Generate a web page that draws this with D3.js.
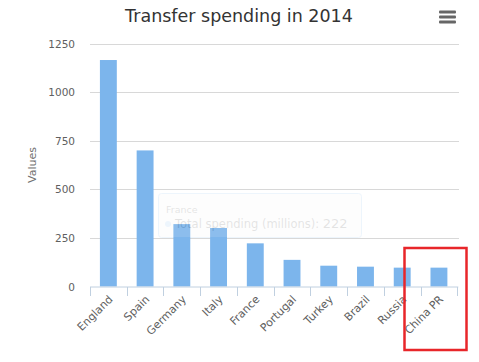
<!DOCTYPE html>
<html><head><meta charset="utf-8">
<script src="https://cdn.jsdelivr.net/npm/d3@7"></script>
<style>body{margin:0;background:#fff;}svg{display:block;font-family:"DejaVu Sans",Verdana,sans-serif;}</style>
</head><body>
<svg id="c" width="479" height="362"></svg>
<script>
const categories = ["England","Spain","Germany","Italy","France","Portugal","Turkey","Brazil","Russia","China PR"];
const values = [1165, 700, 321, 301, 222, 137, 107, 102, 97, 97];
const yTicks = [0, 250, 500, 750, 1000, 1250];
const titleText = "Transfer spending in 2014";
const yTitle = "Values";
const tooltipName = "France";
const tooltipSeries = "Total spending (millions)";
const tooltipValue = 222;

(function(){
const svg = d3.select("#c");
const pL = 90, pR = 457.3, pT = 43.5, pB = 286.5;
const x = d3.scaleBand().domain(categories).range([pL, pR]).padding(0);
const y = d3.scaleLinear().domain([0, 1250]).range([pB, pT]);

svg.append("text").attr("x", 239).attr("y", 22).attr("text-anchor", "middle")
  .attr("font-size", 17.5).attr("fill", "#333").text(titleText);

[12, 17, 22].forEach(yy => svg.append("rect").attr("x", 439).attr("y", yy - 1.5).attr("width", 17).attr("height", 3).attr("rx", 1).attr("fill", "#666"));

svg.append("g").selectAll("line").data(yTicks.filter(d => d > 0)).join("line")
  .attr("x1", pL).attr("x2", 459).attr("y1", d => Math.round(y(d)) + 0.5).attr("y2", d => Math.round(y(d)) + 0.5)
  .attr("stroke", "#d8d8d8").attr("stroke-width", 1);

svg.append("g").selectAll("text").data(yTicks).join("text")
  .attr("x", 75).attr("y", d => y(d) + 4).attr("text-anchor", "end")
  .attr("font-size", 10.5).attr("fill", "#606060").text(d => d);

svg.append("text").attr("transform", `translate(36,${(pT+pB)/2}) rotate(-90)`)
  .attr("text-anchor", "middle").attr("font-size", 11).attr("fill", "#707070").text(yTitle);

const bw = x.bandwidth() * 0.46;
svg.append("g").selectAll("rect").data(values).join("rect")
  .attr("x", (d, i) => x(categories[i]) + x.bandwidth() / 2 - bw / 2)
  .attr("width", bw)
  .attr("y", d => y(d)).attr("height", d => y(0) - y(d))
  .attr("fill", "#7cb5ec");

const ax = svg.append("g");
ax.append("line").attr("x1", pL).attr("x2", pR + 1).attr("y1", 287).attr("y2", 287).attr("stroke", "#c0d0e0");
const tickPos = categories.map(c => x(c)).concat([pR]);
ax.selectAll("line.t").data(tickPos).join("line").attr("class", "t")
  .attr("x1", d => Math.round(d) + 0.5).attr("x2", d => Math.round(d) + 0.5).attr("y1", 287).attr("y2", 296)
  .attr("stroke", "#c0d0e0");
ax.selectAll("text").data(categories).join("text")
  .attr("transform", c => `translate(${x(c) + x.bandwidth()/2 + 5},${300}) rotate(-45)`)
  .attr("text-anchor", "end").attr("font-size", 11).attr("fill", "#606060").text(c => c);

const tt = svg.append("g").attr("opacity", 0.13);
tt.append("rect").attr("x", 158.5).attr("y", 193.5).attr("width", 203).attr("height", 44).attr("rx", 3)
  .attr("fill", "#f7f7f7").attr("stroke", "#7cb5ec");
tt.append("text").attr("x", 166).attr("y", 213).attr("font-size", 9.5).attr("fill", "#333").text(tooltipName);
tt.append("circle").attr("cx", 168).attr("cy", 224).attr("r", 3).attr("fill", "#7cb5ec");
const t2 = tt.append("text").attr("x", 175).attr("y", 228).attr("font-size", 11.5).attr("fill", "#333");
t2.append("tspan").text(tooltipSeries + ": ");
t2.append("tspan").attr("font-size", 13).text(tooltipValue);

svg.append("rect").attr("x", 404.5).attr("y", 248).attr("width", 62).attr("height", 102)
  .attr("fill", "none").attr("stroke", "#e8262a").attr("stroke-width", 2.5);
})();
</script>
</body></html>
